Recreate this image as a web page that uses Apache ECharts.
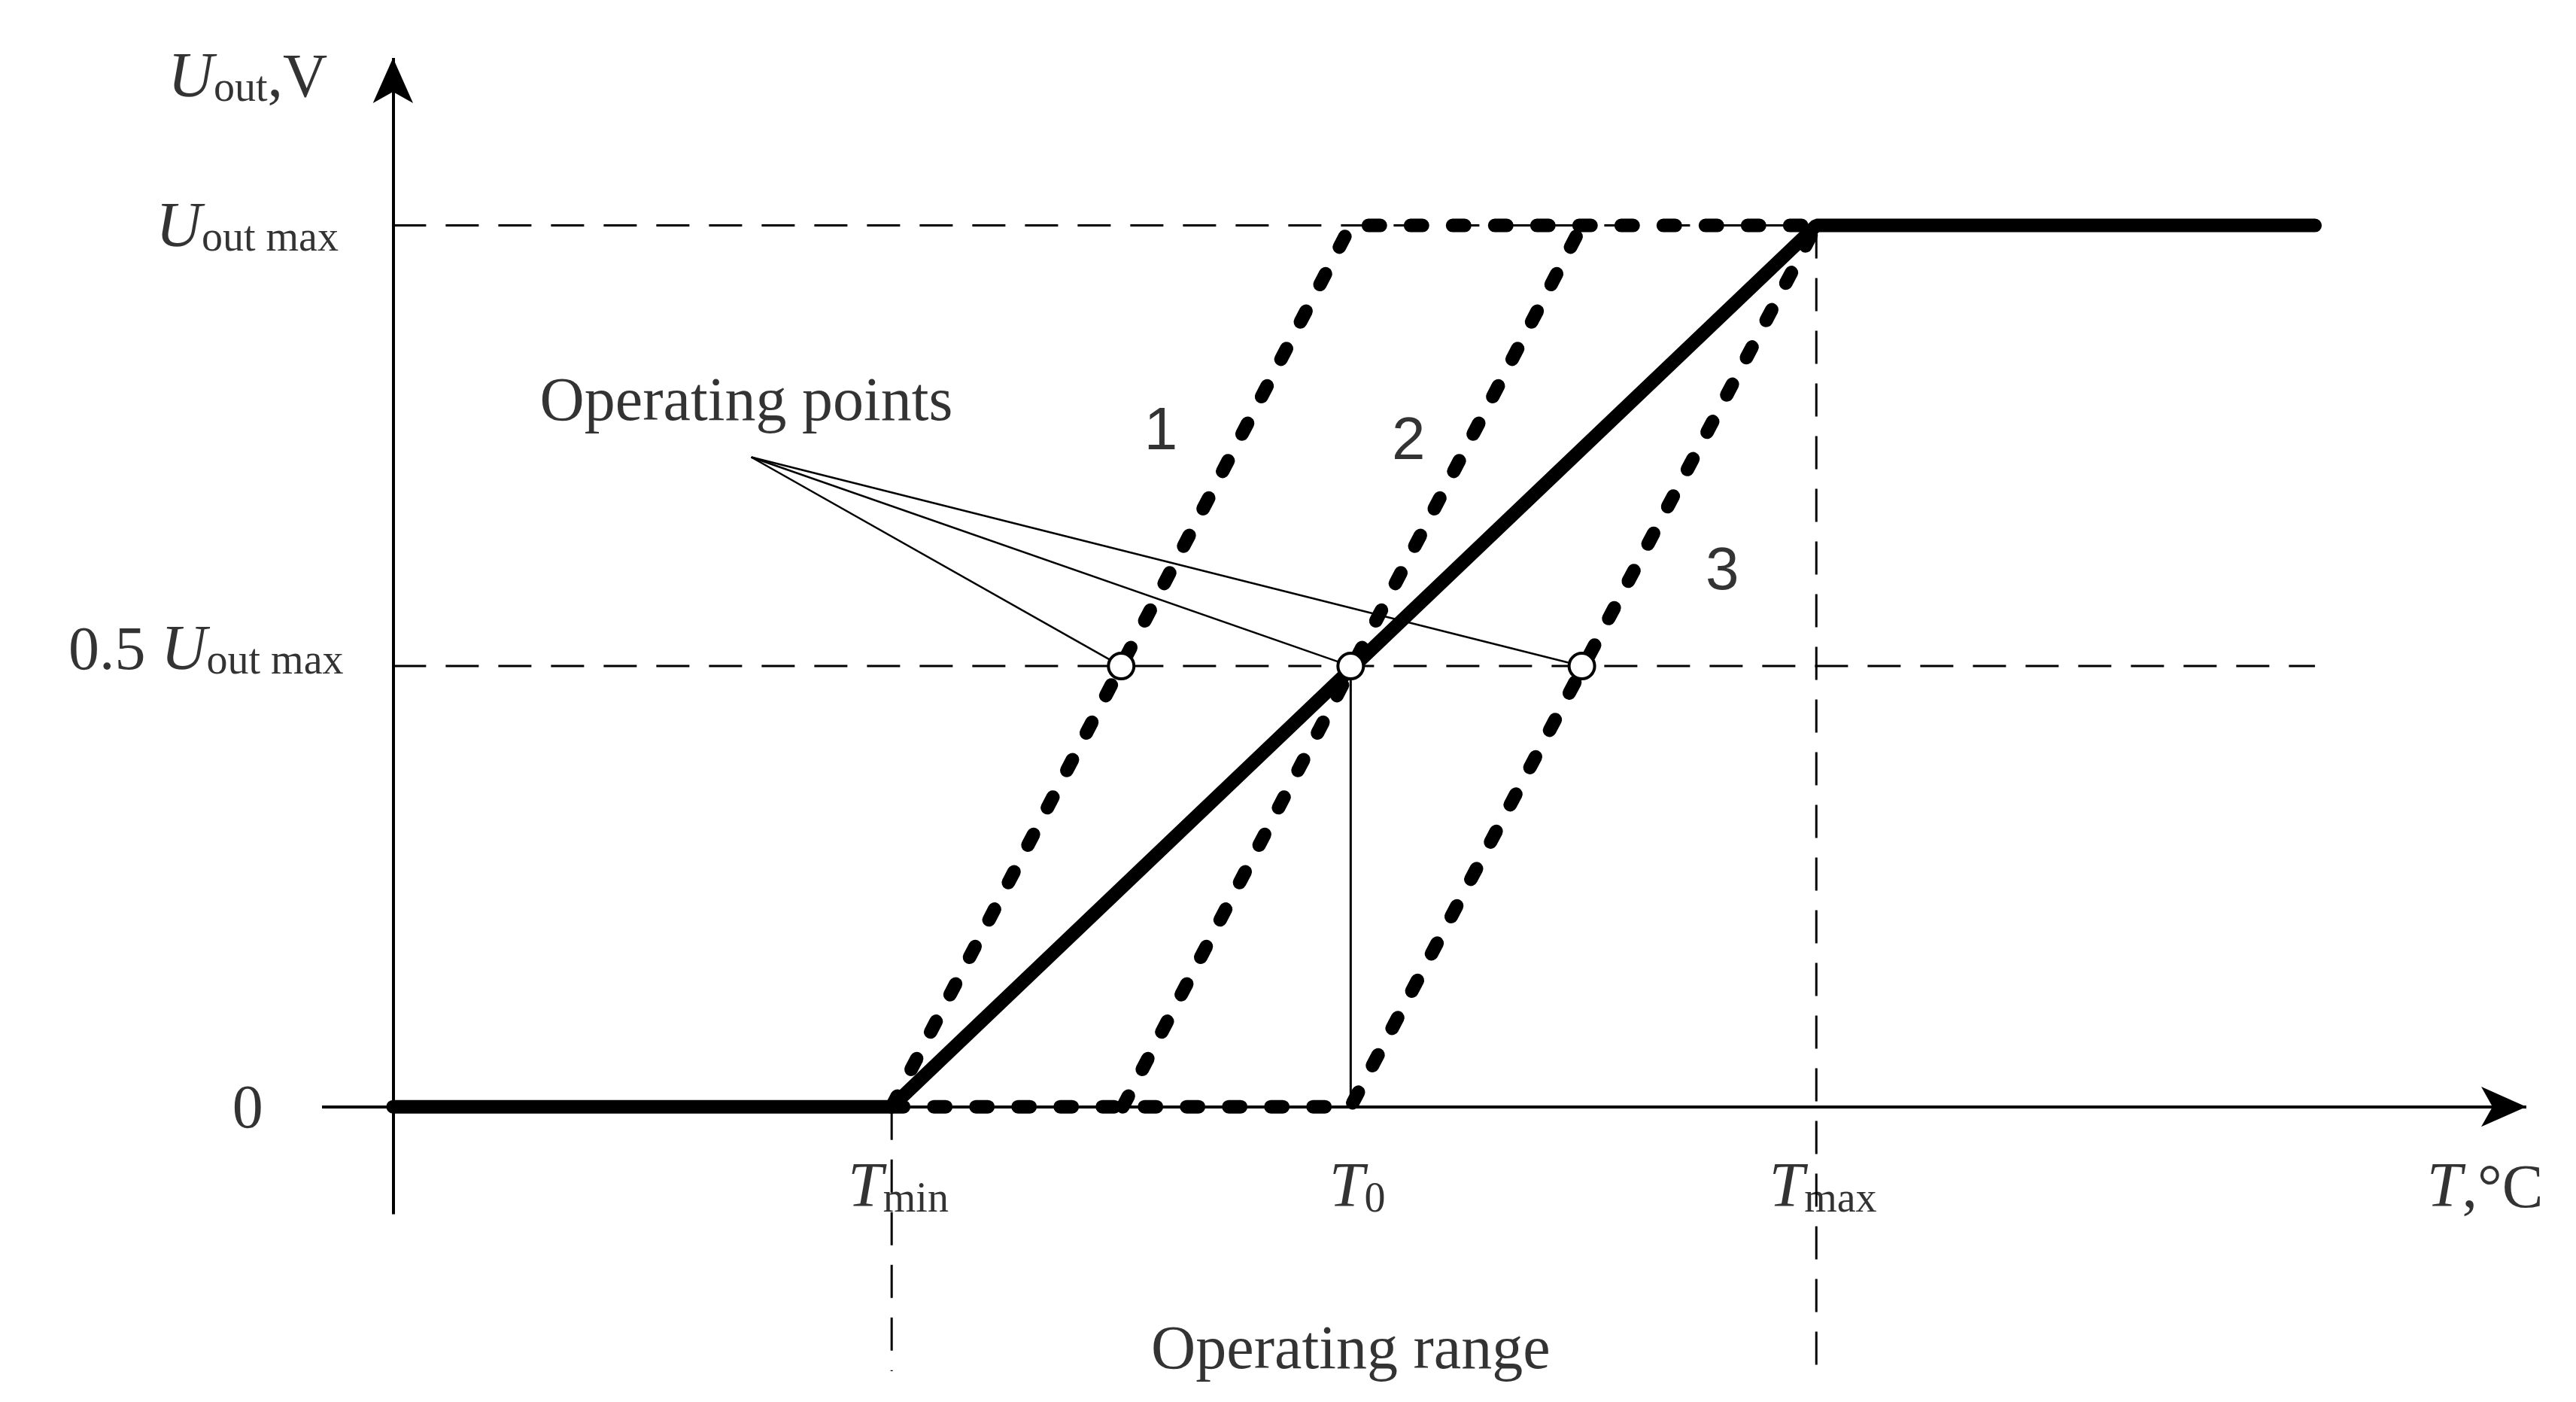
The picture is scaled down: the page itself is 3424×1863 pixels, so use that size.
<!DOCTYPE html>
<html><head><meta charset="utf-8">
<script src="https://cdn.jsdelivr.net/npm/echarts@6/dist/echarts.min.js"></script>
<style>html,body{margin:0;background:#fff}#c{width:3424px;height:1863px}</style></head>
<body><div id="c"></div>
<script>
// temperatures (arbitrary units), output fraction of Uout max
const T_MIN = 302, T_0 = 580, T_MAX = 862, T_END = 1164;
const mainCurve = [[0,0],[T_MIN,0],[T_MAX,1],[T_END,1]];
const curve1 = [[T_MIN,0],[T_0,1],[T_MAX,1]];
const curve2 = [[442,0],[720,1]];
const curve3 = [[T_MIN,0],[T_0,0],[T_MAX,1]];
const operatingPoints = [[441,0.5],[T_0,0.5],[720,0.5]];
const pointerOrigin = [217,0.737];
const labelTexts = [
  ['{i|U}{s|out}{n|,V}', -88, 1.17, 'center'],
  ['{i|U}{s|out max}', -33, 1.0, 'right'],
  ['{n|0.5 }{i|U}{s|out max}', -30, 0.52, 'right'],
  ['{n|0}', -88, 0, 'center'],
  ['{i|T}{s|min}', T_MIN+4, -0.09, 'center'],
  ['{i|T}{s|0}', T_0+4, -0.09, 'center'],
  ['{i|T}{s|max}', T_MAX+4, -0.09, 'center'],
  ['{i|T}{n|,°C}', 1267, -0.09, 'center'],
  ['{n|Operating range}', 580, -0.273, 'center'],
  ['{n|Operating points}', 214, 0.803, 'center'],
  ['{a|1}', 465, 0.765, 'center'],
  ['{a|2}', 615, 0.754, 'center'],
  ['{a|3}', 805, 0.606, 'center']
];
const XMIN=-43, XMAX=1292, YMIN=-0.3, YMAX=1.19;

const chart = echarts.init(document.getElementById('c'));
const dot = {color:'#000',width:18,type:[16,40],cap:'round'};
const thinDash = {color:'#000',width:3,type:[44,26]};
const rich = {
  i:{fontFamily:'Liberation Serif',fontStyle:'italic',fontSize:84,color:'#000',lineHeight:94,verticalAlign:'bottom'},
  n:{fontFamily:'Liberation Serif',fontSize:82,color:'#000',lineHeight:94,verticalAlign:'bottom'},
  s:{fontFamily:'Liberation Serif',fontSize:56,color:'#000',lineHeight:72,verticalAlign:'bottom'},
  a:{fontFamily:'Liberation Sans',fontSize:80,color:'#000'}
};
const ln = (data, style, z) => ({type:'line',data,symbol:'none',lineStyle:style,z:z||2,silent:true,animation:false});
chart.setOption({
  animation:false,
  grid:{left:428,right:66,top:77,bottom:41},
  xAxis:{type:'value',min:XMIN,max:XMAX,show:false},
  yAxis:{type:'value',min:YMIN,max:YMAX,show:false},
  series:[
    ln([[0,1],[T_MAX,1]], thinDash),
    ln([[0,0.5],[T_END,0.5]], thinDash),
    ln([[T_MAX,1],[T_MAX,YMIN]], thinDash),
    ln([[T_MIN,0],[T_MIN,YMIN]], thinDash),
    ln([[T_0,0.5],[T_0,0]], {color:'#000',width:3}),
    {type:'line',data:[],markLine:{silent:true,symbol:['none','arrow'],symbolSize:[40,60],label:{show:false},
      lineStyle:{color:'#000',width:4,type:'solid'},
      data:[[{coord:[XMIN,0]},{coord:[XMAX,0]}],[{coord:[0,-0.122]},{coord:[0,YMAX]}]]}},
    ln(curve1, dot, 3), ln(curve2, dot, 3), ln(curve3, dot, 3),
    ln(mainCurve, {color:'#000',width:18,cap:'round'}, 4),
    ...operatingPoints.map(p => ln([pointerOrigin, p], {color:'#000',width:2.5}, 5)),
    {type:'scatter',data:operatingPoints,symbol:'circle',symbolSize:34,z:6,
      itemStyle:{color:'#fff',borderColor:'#000',borderWidth:4,opacity:1}},
    {type:'scatter',z:7,symbolSize:0,silent:true,clip:false,
      data:labelTexts.map(l=>({value:[l[1],l[2]],label:{show:true,position:'inside',formatter:l[0],rich,align:l[3]}}))}
  ]
});
</script></body></html>
